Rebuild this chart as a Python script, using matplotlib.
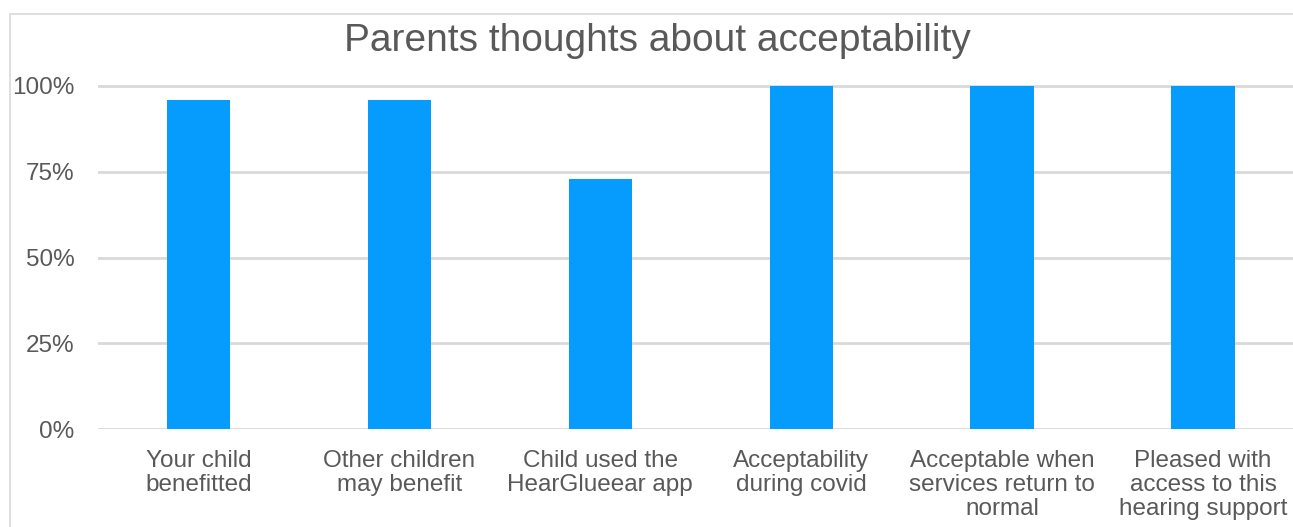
import matplotlib
matplotlib.use("Agg")
import matplotlib.pyplot as plt
from matplotlib.patches import Rectangle
from matplotlib.ticker import FuncFormatter

categories = [
    "Your child\nbenefitted",
    "Other children\nmay benefit",
    "Child used the\nHearGlueear app",
    "Acceptability\nduring covid",
    "Acceptable when\nservices return to\nnormal",
    "Pleased with\naccess to this\nhearing support",
]
values = [0.96, 0.96, 0.73, 1.00, 1.00, 1.00]
yticks = [0, 0.25, 0.5, 0.75, 1.0]
title = "Parents thoughts about acceptability"

W, H = 1293, 527
fig = plt.figure(figsize=(W / 100, H / 100), dpi=100)
plt.rcParams['font.family'] = ['Liberation Sans', 'DejaVu Sans']

text_color = "#595959"
grid_color = "#D9D9D9"
bar_color = "#059CFD"

# outer frame
fig.patches.append(Rectangle((10 / W, -0.1), 1.2, (H - 14) / H + 0.1,
                             transform=fig.transFigure, fill=False,
                             edgecolor=grid_color, linewidth=1.2))

ymax = 1.05
left_px, right_px = 98, 1303.5
zero_px, hundred_px = 429.3, 86
height_px = (zero_px - hundred_px) * ymax
ax = fig.add_axes([left_px / W, (H - zero_px) / H,
                   (right_px - left_px) / W, height_px / H])

x = list(range(len(categories)))
ax.bar(x, values, width=0.315, color=bar_color, zorder=3)
ax.set_xlim(-0.5, len(categories) - 0.5)
ax.set_ylim(0, ymax)
ax.set_yticks(yticks)
ax.yaxis.set_major_formatter(FuncFormatter(lambda v, p: f"{v*100:.0f}%"))
ax.set_xticks(x)
ax.set_xticklabels(categories, linespacing=1.12, va="top")
ax.tick_params(axis="x", length=0, pad=15, labelsize=17.5, labelcolor=text_color)
ax.tick_params(axis="y", length=0, pad=17, labelsize=17.5, labelcolor=text_color)
ax.yaxis.grid(True, color=grid_color, linewidth=2, zorder=0)
ax.set_axisbelow(True)
for s in ax.spines.values():
    s.set_visible(False)
ax.patch.set_alpha(0)

fig.text(657 / W, (H - 41) / H, title, ha="center", va="center",
         fontsize=28, color=text_color)

fig.savefig("out.png", dpi=100)
